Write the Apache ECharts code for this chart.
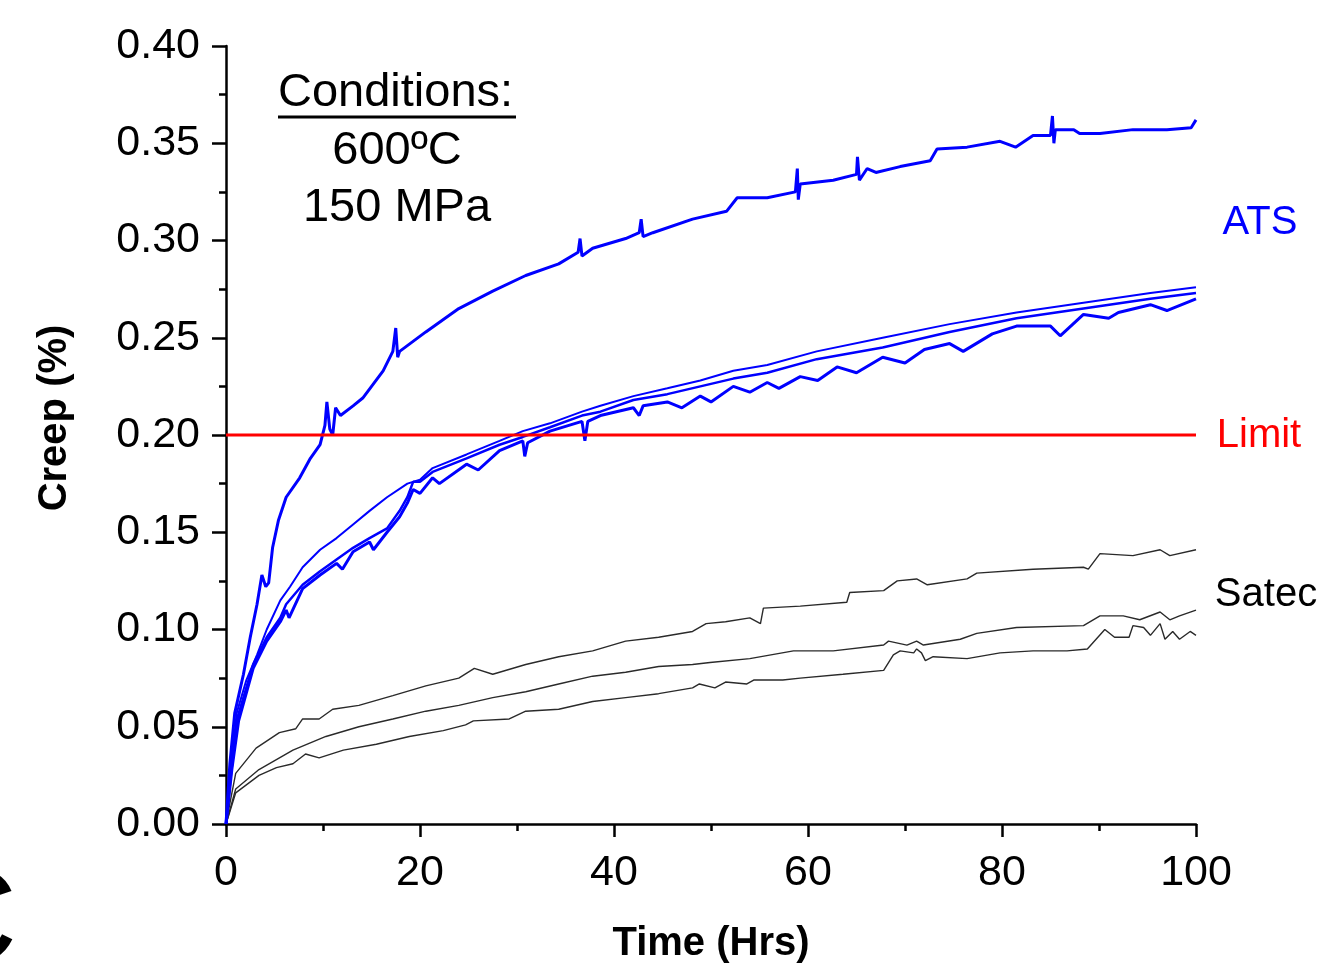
<!DOCTYPE html>
<html>
<head>
<meta charset="utf-8">
<script src="https://cdn.jsdelivr.net/npm/echarts@6/dist/echarts.min.js"></script>
<style>
  html, body { margin: 0; padding: 0; background: #fff; }
  #creepChart { width: 1329px; height: 969px; }
</style>
</head>
<body>
<div id="creepChart"></div>
<script>
// creep curves, [hours, creep %]
var atsTop = [[0,0],[0.4,0.031],[0.9,0.057],[1.8,0.077],[2.5,0.096],[3.2,0.113],[3.7,0.128],[4.1,0.122],[4.4,0.124],[4.8,0.142],[5.4,0.156],[6.2,0.168],[7.6,0.178],[8.7,0.188],[9.7,0.195],[10.2,0.205],[10.4,0.217],[10.7,0.203],[11.0,0.200],[11.3,0.214],[11.8,0.210],[13.1,0.215],[14.1,0.219],[16.2,0.233],[17.2,0.243],[17.5,0.255],[17.7,0.240],[17.9,0.243],[20.6,0.253],[24,0.265],[27.5,0.274],[30.9,0.282],[34.3,0.288],[36.3,0.294],[36.5,0.301],[36.7,0.292],[37.8,0.296],[41.2,0.301],[42.6,0.304],[42.8,0.311],[43.0,0.302],[44,0.304],[48.1,0.311],[51.6,0.315],[52.7,0.322],[55.8,0.322],[58.7,0.325],[58.9,0.337],[59.0,0.321],[59.2,0.329],[62.6,0.331],[65,0.334],[65.1,0.343],[65.3,0.331],[66.1,0.337],[67,0.335],[69.5,0.338],[72.6,0.341],[73.3,0.347],[76.4,0.348],[79.8,0.351],[81.4,0.348],[83.2,0.354],[85,0.354],[85.2,0.364],[85.35,0.350],[85.5,0.357],[87.4,0.357],[88,0.355],[90.1,0.355],[93.5,0.357],[97,0.357],[99.5,0.358],[100,0.362]];
var atsB = [[0,0],[0.4,0.023],[1.1,0.057],[2.1,0.074],[3.2,0.087],[4.2,0.100],[5.6,0.115],[6.6,0.122],[7.9,0.132],[9.7,0.141],[11.4,0.147],[13.1,0.154],[14.8,0.161],[16.6,0.168],[18.7,0.175],[20,0.177],[21.3,0.183],[24.8,0.190],[28.2,0.197],[30.6,0.202],[33.4,0.206],[36.7,0.212],[38.6,0.215],[42,0.220],[45.5,0.224],[48.9,0.228],[52.3,0.233],[55.8,0.236],[60.9,0.243],[67.7,0.250],[74.6,0.257],[81.5,0.263],[88.4,0.268],[95.3,0.273],[100,0.276]];
var atsC = [[0,0],[0.5,0.025],[1.2,0.055],[2.8,0.082],[4.2,0.096],[5.6,0.106],[6.2,0.113],[7.9,0.123],[9.7,0.130],[11.4,0.136],[13.1,0.142],[14.8,0.147],[16.6,0.152],[17.9,0.161],[18.7,0.168],[19.3,0.176],[20,0.176],[21.3,0.181],[24.8,0.188],[28.2,0.195],[30.6,0.199],[33.4,0.204],[36.7,0.210],[38.6,0.212],[42,0.218],[45.5,0.221],[48.9,0.225],[52.3,0.229],[55.8,0.232],[60.9,0.239],[67.7,0.245],[74.6,0.253],[81.5,0.260],[88.4,0.265],[95.3,0.270],[100,0.273]];
var atsD = [[0,0],[0.6,0.028],[1.3,0.053],[2.8,0.080],[4.2,0.094],[5.6,0.104],[6.2,0.110],[6.5,0.106],[7.9,0.121],[9.7,0.128],[11.4,0.134],[12,0.131],[13.1,0.140],[14.8,0.145],[15.2,0.141],[16.6,0.150],[17.9,0.158],[18.7,0.165],[19.3,0.172],[20,0.170],[21.3,0.178],[22,0.175],[24.8,0.185],[26,0.182],[28.2,0.192],[30.6,0.197],[30.8,0.189],[31.1,0.196],[33.4,0.202],[36.7,0.207],[37,0.197],[37.3,0.207],[38.6,0.210],[42,0.214],[42.6,0.210],[43,0.215],[45.5,0.217],[47,0.214],[48.9,0.220],[50,0.217],[52.3,0.225],[54,0.222],[55.8,0.227],[57,0.224],[59.2,0.230],[61,0.228],[63,0.235],[65,0.232],[67.7,0.240],[70,0.237],[72,0.244],[74.6,0.247],[76,0.243],[79,0.252],[81.5,0.256],[85,0.256],[86,0.251],[88.4,0.262],[91,0.260],[92,0.263],[95.3,0.267],[97,0.264],[100,0.270]];

var satecTop = [[0,0],[0.3,0.008],[1.0,0.026],[3.1,0.039],[5.5,0.047],[7.2,0.049],[7.9,0.054],[9.6,0.054],[11.0,0.059],[13.7,0.061],[17.2,0.066],[20.6,0.071],[24.0,0.075],[25.6,0.080],[27.5,0.077],[30.9,0.082],[34.3,0.086],[37.8,0.089],[41.2,0.094],[44.6,0.096],[48.1,0.099],[49.5,0.103],[51.5,0.104],[54.0,0.106],[55.1,0.103],[55.4,0.111],[59.2,0.112],[64.0,0.114],[64.3,0.119],[67.8,0.120],[69.2,0.125],[71.2,0.126],[72.3,0.123],[76.4,0.126],[77.4,0.129],[83.2,0.131],[88.4,0.132],[88.9,0.131],[90.1,0.139],[93.5,0.138],[96.3,0.141],[97.3,0.138],[100,0.141]];
var satecMid = [[0,0],[1.0,0.018],[3.4,0.028],[6.9,0.038],[10.3,0.045],[13.7,0.050],[17.2,0.054],[20.6,0.058],[24,0.061],[27.5,0.065],[30.9,0.068],[34.3,0.072],[37.8,0.076],[41.2,0.078],[44.6,0.081],[48.1,0.082],[49.9,0.083],[54,0.085],[58.5,0.089],[62.6,0.089],[67.8,0.092],[68.3,0.094],[70.2,0.092],[71.2,0.094],[71.9,0.092],[75.7,0.095],[77.4,0.098],[81.5,0.101],[88.4,0.102],[90.1,0.107],[92.5,0.107],[94.2,0.105],[96.3,0.109],[97.3,0.105],[98.3,0.107],[100,0.110]];
var satecLow = [[0,0],[1.0,0.016],[3.4,0.025],[5.2,0.029],[6.9,0.031],[8.2,0.036],[9.6,0.034],[12.1,0.038],[15.5,0.041],[18.9,0.045],[22.4,0.048],[24.7,0.051],[25.5,0.053],[29.2,0.054],[30.9,0.058],[34.3,0.059],[37.8,0.063],[41.2,0.065],[44.6,0.067],[48.1,0.070],[48.8,0.072],[50.4,0.070],[51.5,0.073],[53.7,0.072],[54.4,0.074],[57.4,0.074],[59.2,0.075],[63.6,0.077],[67.8,0.079],[68.8,0.087],[69.5,0.089],[70.9,0.088],[71.2,0.090],[71.7,0.088],[72.1,0.084],[72.9,0.086],[76.4,0.085],[79.8,0.088],[83.2,0.089],[86.7,0.089],[88.8,0.090],[90.6,0.100],[91.6,0.096],[93.1,0.096],[93.5,0.102],[94.6,0.101],[95.3,0.097],[96.3,0.103],[96.8,0.095],[97.6,0.099],[98.3,0.095],[99.4,0.099],[100,0.097]];

var limitLine = [[0,0.2],[100,0.2]];

var FONT = 'Liberation Sans, Arial, sans-serif';
var BLUE = '#0000ff';

var chart = echarts.init(document.getElementById('creepChart'));

function blueLine(data, w){
  return { type: 'line', data: data, showSymbol: false, animation: false,
    lineStyle: { color: BLUE, width: w }, z: 3 };
}
function greyLine(data){
  return { type: 'line', data: data, showSymbol: false, animation: false,
    lineStyle: { color: '#2a2a2a', width: 1.4 }, z: 2 };
}

var option = {
  backgroundColor: '#fff',
  animation: false,
  grid: { left: 226, right: 133, top: 46, bottom: 141 },
  xAxis: {
    type: 'value', min: 0, max: 100, interval: 20,
    name: 'Time (Hrs)', nameLocation: 'middle', nameGap: 100,
    nameTextStyle: { fontFamily: FONT, fontSize: 40, fontWeight: 'bold', color: '#000' },
    axisLine: { show: true, lineStyle: { color: '#000', width: 2.5 } },
    axisTick: { show: true, length: 13, lineStyle: { color: '#000', width: 2.5 } },
    minorTick: { show: true, splitNumber: 2, length: 7, lineStyle: { color: '#000', width: 2.5 } },
    splitLine: { show: false },
    axisLabel: { fontFamily: FONT, fontSize: 43, color: '#000', margin: 28 }
  },
  yAxis: {
    type: 'value', min: 0, max: 0.4, interval: 0.05,
    axisLine: { show: true, lineStyle: { color: '#000', width: 2.5 } },
    axisTick: { show: true, length: 14, lineStyle: { color: '#000', width: 2.5 } },
    minorTick: { show: true, splitNumber: 2, length: 7, lineStyle: { color: '#000', width: 2.5 } },
    splitLine: { show: false },
    axisLabel: { fontFamily: FONT, fontSize: 43, color: '#000', margin: 26,
      formatter: function (v) { return v.toFixed(2); } }
  },
  series: [
    greyLine(satecTop), greyLine(satecMid), greyLine(satecLow),
    blueLine(atsD, 3), blueLine(atsC, 2.5), blueLine(atsB, 2), blueLine(atsTop, 3),
    { type: 'line', data: limitLine, showSymbol: false, animation: false,
      lineStyle: { color: '#ff0000', width: 3.2 }, z: 4 }
  ],
  graphic: [
    { type: 'text', x: 55, y: 418, rotation: Math.PI / 2,
      style: { text: 'Creep (%)', font: 'bold 40px ' + FONT, fill: '#000', align: 'center', verticalAlign: 'middle' } },
    { type: 'text', left: 278, top: 70, style: { text: 'Conditions:', font: '47px ' + FONT, fill: '#000' } },
    { type: 'line', shape: { x1: 278, y1: 117, x2: 516, y2: 117 }, style: { stroke: '#000', lineWidth: 3 } },
    { type: 'text', x: 397, y: 151, style: { text: '600ºC', font: '47px ' + FONT, fill: '#000', align: 'center', verticalAlign: 'middle' } },
    { type: 'text', x: 397, y: 208, style: { text: '150 MPa', font: '47px ' + FONT, fill: '#000', align: 'center', verticalAlign: 'middle' } },
    { type: 'text', x: 1260, y: 223, style: { text: 'ATS', font: '40px ' + FONT, fill: BLUE, align: 'center', verticalAlign: 'middle' } },
    { type: 'text', x: 1259, y: 436, style: { text: 'Limit', font: '40px ' + FONT, fill: '#ff0000', align: 'center', verticalAlign: 'middle' } },
    { type: 'text', x: 1266, y: 595, style: { text: 'Satec', font: '40px ' + FONT, fill: '#000', align: 'center', verticalAlign: 'middle' } },
    { type: 'text', x: -80, y: 926, style: { text: 'C', font: '135px ' + FONT, fill: '#000', verticalAlign: 'middle' } }
  ]
};

chart.setOption(option);
</script>
</body>
</html>
